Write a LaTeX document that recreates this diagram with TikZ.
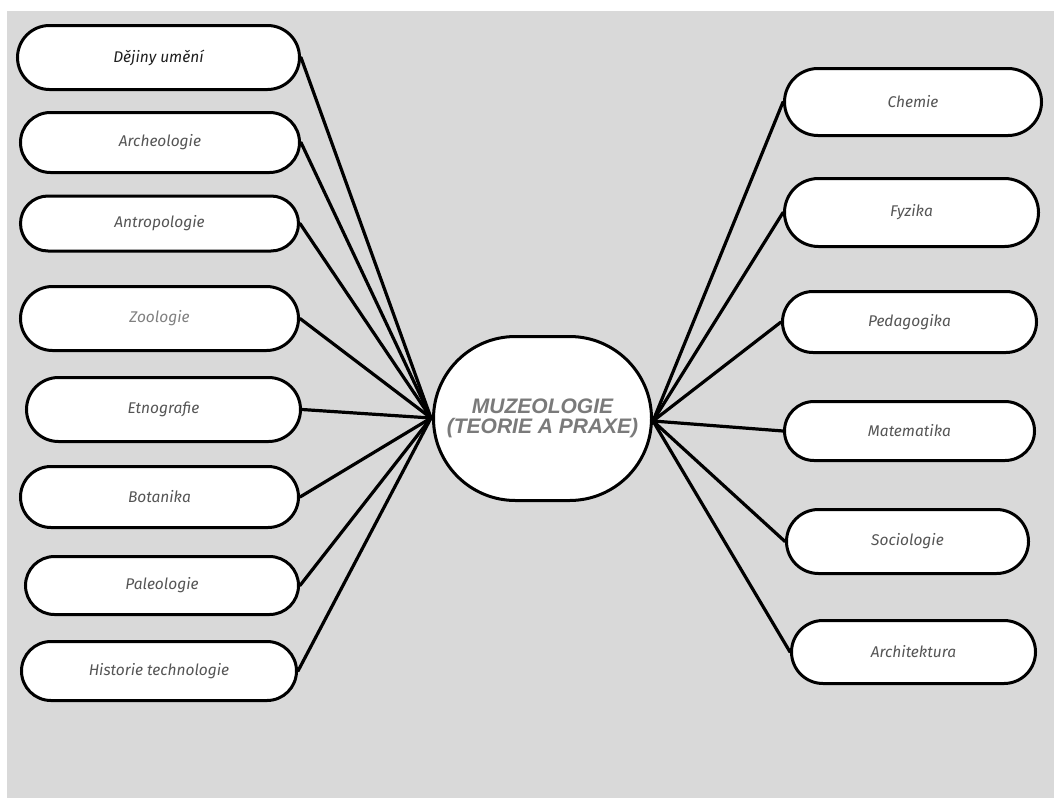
\documentclass[tikz,border=0pt]{standalone}
\usepackage{fontspec}
\setmainfont{Fira Sans}
\setsansfont{Liberation Sans}
\definecolor{bg}{HTML}{D9D9D9}
\definecolor{txt}{HTML}{555555}
\definecolor{ctext}{HTML}{7A7A7A}
\begin{document}
\begin{tikzpicture}[x=1pt,y=-1pt,
  box/.style={draw=black, line width=3pt, fill=white, inner sep=0pt,
    font=\itshape\fontsize{15.5}{18}\selectfont, text=txt},
  link/.style={line width=3.2pt, line cap=round}]
\useasboundingbox (0,0) rectangle (1054,798);
\fill[bg] (7,11) rectangle (1054,798);
\coordinate (L) at (431,418);
\coordinate (R) at (653,421);
% left boxes
\node[box, minimum width=282pt, minimum height=64pt, rounded corners=32pt, text=black!88] (dej) at (158.5,57.5) {Dějiny umění};
\node[box, minimum width=279pt, minimum height=60pt, rounded corners=30pt] (arc) at (160,142.5) {Archeologie};
\node[box, minimum width=278pt, minimum height=55pt, rounded corners=27.5pt] (ant) at (159.5,223.5) {Antropologie};
\node[box, minimum width=278pt, minimum height=64pt, rounded corners=32pt, text=black!50] (zoo) at (159.5,318.5) {Zoologie};
\node[box, minimum width=274pt, minimum height=64pt, rounded corners=32pt] (etn) at (163.5,409.5) {Etnografie};
\node[box, minimum width=278pt, minimum height=61pt, rounded corners=30.5pt] (bot) at (159.5,497) {Botanika};
\node[box, minimum width=273pt, minimum height=58pt, rounded corners=29pt] (pal) at (162,585.5) {Paleologie};
\node[box, minimum width=275pt, minimum height=59pt, rounded corners=29.5pt] (his) at (159,671) {Historie technologie};
% right boxes
\node[box, minimum width=257pt, minimum height=67pt, rounded corners=33.5pt] (che) at (913,102) {Chemie};
\node[box, minimum width=254pt, minimum height=68pt, rounded corners=34pt] (fyz) at (911.5,212.5) {Fyzika};
\node[box, minimum width=254pt, minimum height=61pt, rounded corners=30.5pt] (ped) at (909.5,322) {Pedagogika};
\node[box, minimum width=250pt, minimum height=59pt, rounded corners=29.5pt] (mat) at (909.5,431) {Matematika};
\node[box, minimum width=242pt, minimum height=64pt, rounded corners=32pt] (soc) at (907.5,541.5) {Sociologie};
\node[box, minimum width=244pt, minimum height=63pt, rounded corners=31.5pt] (arch) at (913.5,652) {Architektura};
% connectors
\foreach \n in {dej,arc,ant,zoo,etn,bot,pal,his} \draw[link] (\n.east) -- (L);
\foreach \n in {che,fyz,ped,mat,soc,arch} \draw[link] (\n.west) -- (R);
% center
\node[draw=black, line width=3pt, fill=white, inner sep=0pt, minimum width=218pt, minimum height=164pt,
  rounded corners=82pt, align=center, font=\sffamily\bfseries\itshape\fontsize{21}{20}\selectfont, text=ctext]
  (c) at (542.5,418.5) {MUZEOLOGIE\\(TEORIE A PRAXE)};
\end{tikzpicture}
\end{document}
